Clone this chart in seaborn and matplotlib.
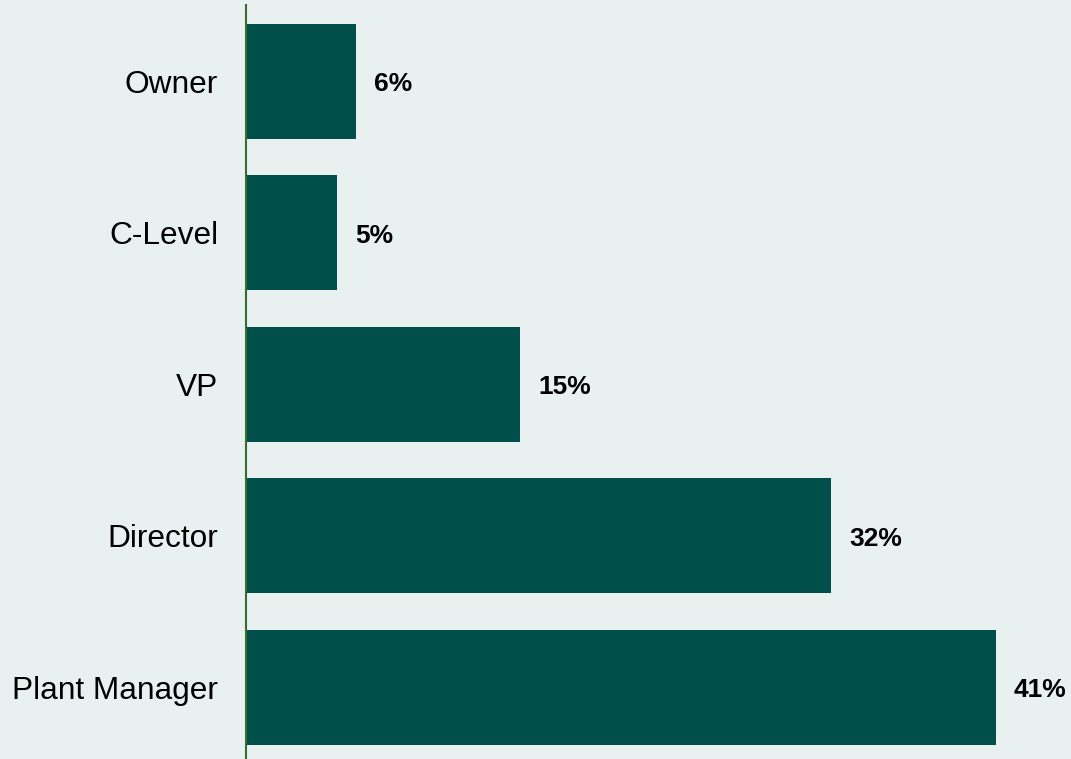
import matplotlib
matplotlib.use("Agg")
import matplotlib.pyplot as plt
import seaborn as sns
import pandas as pd

roles = ["Owner", "C-Level", "VP", "Director", "Plant Manager"]
shares = [6, 5, 15, 32, 41]

BG = "#E8F1F0"
BAR = "#004F4A"
AXIS = "#3B6B2F"

sns.set_theme(style="white")
plt.rcParams["font.family"] = ["Liberation Sans", "DejaVu Sans"]

df = pd.DataFrame({"role": roles, "share": shares})

fig = plt.figure(figsize=(10.71, 7.59), dpi=100, facecolor=BG)
ax = fig.add_axes([0.2297, 0.0, 0.7703, 0.9934])
ax.set_facecolor(BG)

sns.barplot(data=df, x="share", y="role", order=roles, color=BAR,
            saturation=1, width=0.76, linewidth=0, edgecolor=BAR, ax=ax)

for i, v in enumerate(shares):
    ax.annotate(f"{v}%", xy=(v, i), xytext=(18, -3), textcoords="offset pixels",
                va="center", ha="left", fontsize=19, fontweight="bold",
                color="#000000")

ax.set_xlim(0, 45.1)
ax.set_ylim(4.475, -0.505)
ax.set_xlabel("")
ax.set_ylabel("")
ax.set_xticks([])
ax.tick_params(axis="y", length=0, pad=20, labelsize=22.8, labelcolor="#000000")

for side in ["top", "right", "bottom"]:
    ax.spines[side].set_visible(False)
ax.spines["left"].set_color(AXIS)
ax.spines["left"].set_linewidth(1.5)

fig.savefig("out.png", dpi=100, facecolor=BG)
